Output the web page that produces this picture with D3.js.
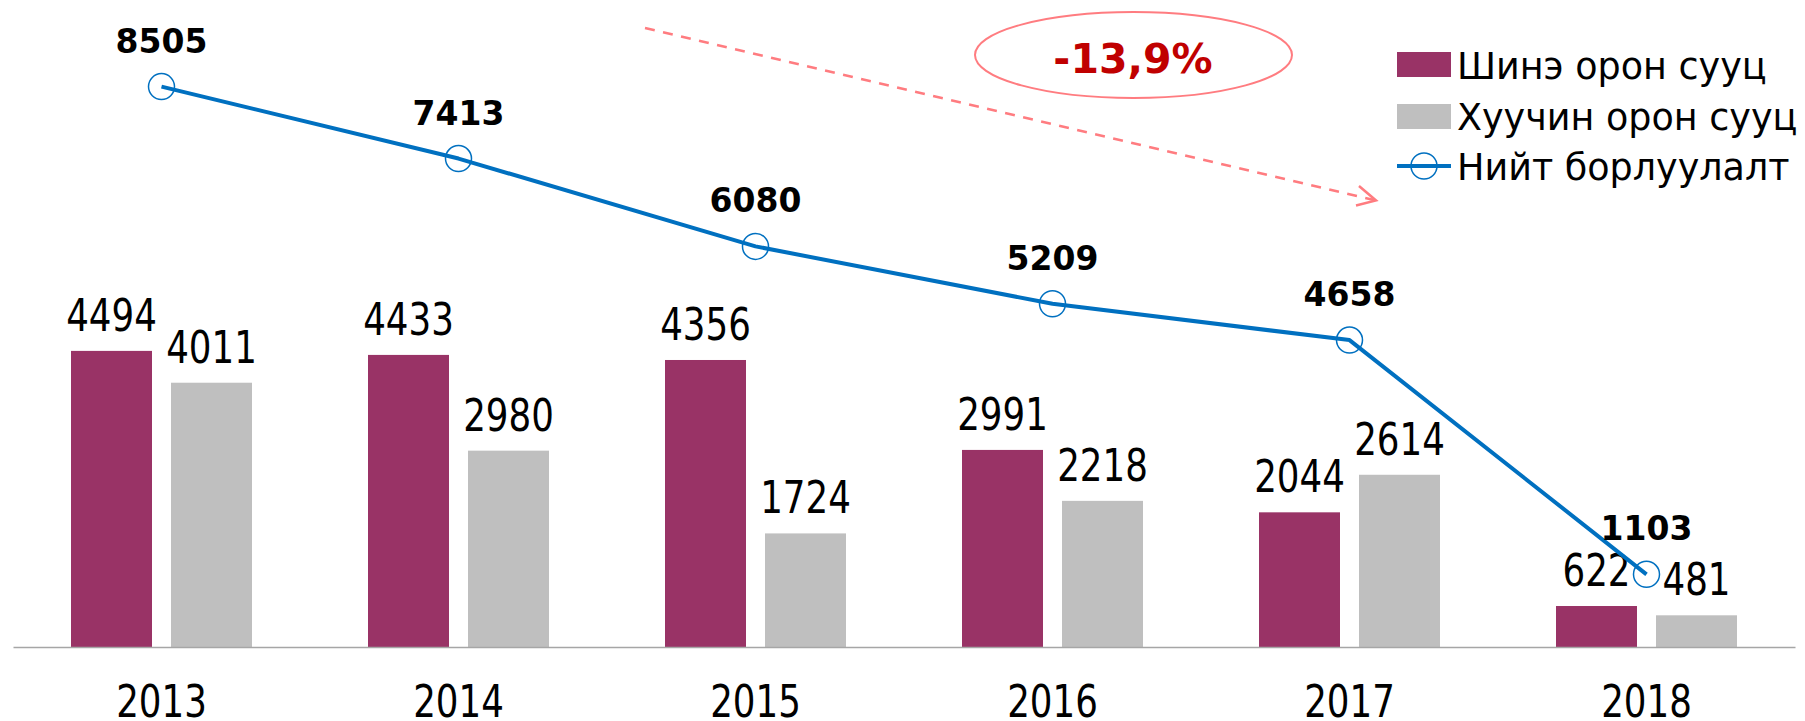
<!DOCTYPE html>
<html>
<head>
<meta charset="utf-8">
<script src="https://cdn.jsdelivr.net/npm/d3@7"></script>
<style>
  body { margin: 0; background: #fff; }
  svg { display: block; }
  .lbl { font-family: "DejaVu Sans Condensed", "DejaVu Sans", sans-serif; font-stretch: condensed; }
  .leg { font-family: "DejaVu Sans", sans-serif; }
</style>
</head>
<body>
<svg width="1805" height="721"></svg>
<script>
var years = ["2013", "2014", "2015", "2016", "2017", "2018"];
var newHomes = [4494, 4433, 4356, 2991, 2044, 622];
var oldHomes = [4011, 2980, 1724, 2218, 2614, 481];
var totalSales = [8505, 7413, 6080, 5209, 4658, 1103];
var seriesNames = ["Шинэ орон сууц", "Хуучин орон сууц", "Нийт борлуулалт"];
var changeLabel = "-13,9%";

var colNew = "#993366", colOld = "#bfbfbf", colLine = "#0070c0";

var svg = d3.select("svg");

var x = d3.scaleBand().domain(years).range([13, 1795]);
var inner = d3.scaleBand().domain(["new", "old"]).range([58, 239]).paddingInner(0.19);
var y = d3.scaleLinear().domain([0, 9000]).range([647, 54]);

// narrow number label (Tahoma-like proportions)
function numLabel(sel, fx, fy) {
    sel.attr("class", "lbl")
        .attr("text-anchor", "middle")
        .attr("font-size", 44)
        .attr("transform", (d, i) => "translate(" + fx(d, i) + "," + fy(d, i) + ") scale(0.9,1)");
}

var groups = svg.append("g").selectAll("g")
    .data(years)
    .enter().append("g")
    .attr("transform", d => "translate(" + x(d) + ",0)");

// bars
groups.append("rect")
    .attr("x", inner("new"))
    .attr("width", inner.bandwidth())
    .attr("y", (d, i) => y(newHomes[i]))
    .attr("height", (d, i) => y(0) - y(newHomes[i]))
    .attr("fill", colNew);
groups.append("rect")
    .attr("x", inner("old"))
    .attr("width", inner.bandwidth())
    .attr("y", (d, i) => y(oldHomes[i]))
    .attr("height", (d, i) => y(0) - y(oldHomes[i]))
    .attr("fill", colOld);

// bar labels
groups.append("text")
    .call(numLabel, () => inner("new") + inner.bandwidth() / 2, (d, i) => y(newHomes[i]) - 20)
    .text((d, i) => newHomes[i]);
groups.append("text")
    .call(numLabel, () => inner("old") + inner.bandwidth() / 2, (d, i) => y(oldHomes[i]) - 20)
    .text((d, i) => oldHomes[i]);

// axis
var axis = svg.append("g")
    .attr("transform", "translate(0," + y(0) + ")")
    .call(d3.axisBottom(x).tickSize(0).tickPadding(0));
axis.select(".domain").attr("stroke", "#a6a6a6").attr("stroke-width", 1.5);
axis.selectAll(".tick text")
    .attr("fill", "#000")
    .attr("dy", null)
    .attr("y", null)
    .call(numLabel, () => 0, () => 70);

// total line
var cx = d => x(d) + x.bandwidth() / 2;
var line = d3.line().x((d, i) => cx(years[i])).y(d => y(d));
svg.append("path")
    .datum(totalSales)
    .attr("d", line)
    .attr("fill", "none")
    .attr("stroke", colLine)
    .attr("stroke-width", 4)
    .attr("stroke-linejoin", "round");
svg.append("g").selectAll("circle")
    .data(totalSales)
    .enter().append("circle")
    .attr("cx", (d, i) => cx(years[i]))
    .attr("cy", d => y(d))
    .attr("r", 13)
    .attr("fill", "none")
    .attr("stroke", colLine)
    .attr("stroke-width", 1.5);
svg.append("g").selectAll("text")
    .data(totalSales)
    .enter().append("text")
    .attr("font-family", "DejaVu Sans, sans-serif")
    .attr("font-weight", "bold")
    .attr("font-size", 33)
    .attr("text-anchor", "middle")
    .attr("x", (d, i) => cx(years[i]))
    .attr("y", d => y(d) - 34)
    .text(d => d);

// trend arrow + ellipse
var pink = "#ff7c80";
svg.append("line")
    .attr("x1", 645).attr("y1", 28).attr("x2", 1374).attr("y2", 200)
    .attr("stroke", pink).attr("stroke-width", 2.5)
    .attr("stroke-dasharray", "10,8.5");
svg.append("path")
    .attr("d", "M1359,186 L1376,200.5 L1356,205.5")
    .attr("fill", "none").attr("stroke", pink).attr("stroke-width", 2.5);
svg.append("ellipse")
    .attr("cx", 1133.5).attr("cy", 55).attr("rx", 158.5).attr("ry", 43)
    .attr("fill", "none").attr("stroke", pink).attr("stroke-width", 2);
svg.append("text")
    .attr("x", 1133).attr("y", 73)
    .attr("text-anchor", "middle")
    .attr("font-family", "DejaVu Sans, sans-serif")
    .attr("font-weight", "bold")
    .attr("font-size", 41)
    .attr("fill", "#c00000")
    .text(changeLabel);

// legend
var leg = svg.append("g").attr("transform", "translate(1397,0)");
var rowY = [65, 116, 166];
leg.append("rect").attr("x", 0).attr("y", rowY[0] - 13).attr("width", 54).attr("height", 25).attr("fill", colNew);
leg.append("rect").attr("x", 0).attr("y", rowY[1] - 12).attr("width", 54).attr("height", 25).attr("fill", colOld);
leg.append("line").attr("x1", 0).attr("x2", 54).attr("y1", rowY[2]).attr("y2", rowY[2])
    .attr("stroke", colLine).attr("stroke-width", 4);
leg.append("circle").attr("cx", 27).attr("cy", rowY[2]).attr("r", 13)
    .attr("fill", "none").attr("stroke", colLine).attr("stroke-width", 1.5);
leg.selectAll("text.leg")
    .data(seriesNames)
    .enter().append("text")
    .attr("class", "leg")
    .attr("x", 60)
    .attr("y", (d, i) => rowY[i] + 14)
    .attr("font-size", 36.5)
    .text(d => d);
</script>
</body>
</html>
